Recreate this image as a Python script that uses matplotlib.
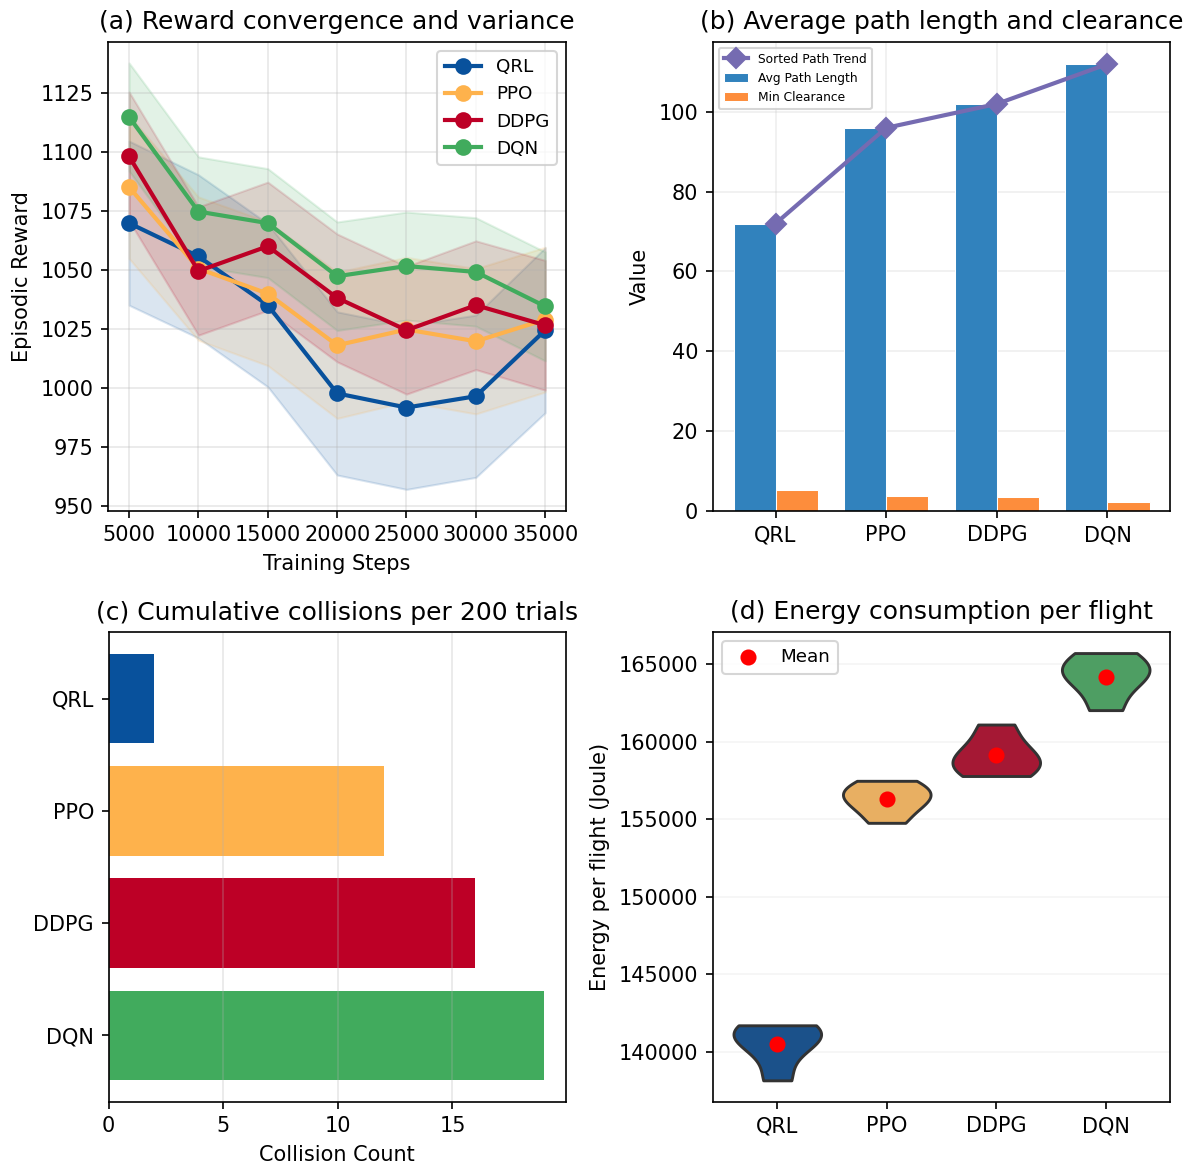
import colorsys

import matplotlib
matplotlib.use("Agg")
import matplotlib.colors as mcolors
import matplotlib.pyplot as plt
import numpy as np

methods = ["QRL", "PPO", "DDPG", "DQN"]
method_colors = ["#08519c", "#feb24c", "#bd0026", "#41ab5d"]

# (a) episodic reward over training: mean and std for each method
steps = [5000, 10000, 15000, 20000, 25000, 30000, 35000]
qrl_reward = [1070.0, 1055.9, 1035.2, 997.8, 991.8, 996.6, 1024.6]
ppo_reward = [1085.3, 1050.7, 1040.1, 1018.2, 1024.9, 1019.9, 1029.1]
ddpg_reward = [1098.3, 1049.7, 1060.2, 1038.3, 1024.6, 1035.2, 1026.7]
dqn_reward = [1115.0, 1074.9, 1070.0, 1047.5, 1051.8, 1049.3, 1034.7]
qrl_std = [34.8, 34.6, 34.6, 34.6, 34.7, 34.4, 35.0]
ppo_std = [30.3, 30.4, 30.5, 31.0, 30.6, 30.8, 30.7]
ddpg_std = [27.3, 27.2, 27.2, 27.1, 27.1, 27.3, 27.5]
dqn_std = [22.9, 23.2, 23.1, 23.0, 22.9, 23.0, 23.1]

# (b) path statistics
path_length = [72, 96, 102, 112]
min_clearance = [5.1, 3.8, 3.4, 2.2]

# (c) collisions over 200 trials
collisions = [2, 12, 16, 19]

# (d) energy per flight samples (Joule)
qrl_energy = [138150, 140300, 141000, 141400, 141700]
ppo_energy = [154760, 155700, 156200, 156600, 157000, 157470]
ddpg_energy = [157780, 158400, 158800, 159600, 161100]
dqn_energy = [162030, 163900, 164400, 164900, 165710]


def desaturate(color, prop):
    r, g, b = mcolors.to_rgb(color)
    h, l, s = colorsys.rgb_to_hls(r, g, b)
    return colorsys.hls_to_rgb(h, l, s * prop)


W, H = 1189, 1164
fig = plt.figure(figsize=(W / 150, H / 150), dpi=150)


def axes_px(left, top, right, bottom):
    return fig.add_axes([left / W, 1 - bottom / H, (right - left) / W, (bottom - top) / H])


tick_fs = 10
title_fs = 12

# ---- (a) reward convergence ----
ax1 = axes_px(108.3, 41.7, 566, 510.7)
rewards = [qrl_reward, ppo_reward, ddpg_reward, dqn_reward]
stds = [qrl_std, ppo_std, ddpg_std, dqn_std]
for name, color, mean, sd in zip(methods, method_colors, rewards, stds):
    mean = np.array(mean)
    sd = np.array(sd)
    ax1.fill_between(steps, mean - sd, mean + sd, color=color, alpha=0.15)
    ax1.plot(steps, mean, marker="o", color=color, linewidth=2.0, markersize=7, label=name)
ax1.set_xticks(steps)
ax1.set_title("(a) Reward convergence and variance", fontsize=title_fs)
ax1.set_xlabel("Training Steps", fontsize=tick_fs)
ax1.set_ylabel("Episodic Reward", fontsize=tick_fs)
ax1.tick_params(labelsize=tick_fs)
ax1.grid(True, alpha=0.3)
ax1.legend(loc="upper right", fontsize=8.8)

# ---- (b) path length and clearance ----
ax2 = axes_px(712.7, 41.7, 1170.3, 510.7)
x = np.arange(len(methods))
w = 0.38
ax2.bar(x - w / 2, path_length, w, color="#3182bd", edgecolor="white", linewidth=0.5,
        label="Avg Path Length")
ax2.bar(x + w / 2, min_clearance, w, color="#fd8d3c", edgecolor="white", linewidth=0.5,
        label="Min Clearance")
ax2.plot(x, sorted(path_length), marker="D", color="#756bb1", linewidth=2.0, markersize=7,
         label="Sorted Path Trend")
ax2.set_xticks(x)
ax2.set_xticklabels(methods)
ax2.set_title("(b) Average path length and clearance", fontsize=title_fs)
ax2.set_ylabel("Value", fontsize=tick_fs)
ax2.tick_params(labelsize=tick_fs)
ax2.grid(True, alpha=0.2)
ax2.set_axisbelow(True)
ax2.legend(loc="upper left", fontsize=5.9)

# ---- (c) collisions ----
ax3 = axes_px(108.5, 632.3, 566, 1101.7)
ax3.barh(methods, collisions, height=0.8, color=method_colors)
ax3.invert_yaxis()
ax3.set_title("(c) Cumulative collisions per 200 trials", fontsize=title_fs)
ax3.set_xlabel("Collision Count", fontsize=tick_fs)
ax3.tick_params(labelsize=tick_fs)
ax3.grid(True, axis="x", alpha=0.3)

# ---- (d) energy violins ----
ax4 = axes_px(712.7, 631.7, 1170.3, 1101.7)
energy = [qrl_energy, ppo_energy, ddpg_energy, dqn_energy]
parts = ax4.violinplot(energy, positions=x, widths=0.8, showextrema=False)
for body, color in zip(parts["bodies"], method_colors):
    body.set_facecolor(desaturate(color, 0.75))
    body.set_edgecolor("#333333")
    body.set_linewidth(1.4)
    body.set_alpha(1)
ax4.scatter(x, [np.mean(e) for e in energy], color="red", s=45, zorder=3, label="Mean")
ax4.set_xticks(x)
ax4.set_xticklabels(methods)
ax4.ticklabel_format(axis="y", style="plain", useOffset=False)
ax4.set_title("(d) Energy consumption per flight", fontsize=title_fs)
ax4.set_ylabel("Energy per flight (Joule)", fontsize=tick_fs)
ax4.tick_params(labelsize=tick_fs)
ax4.grid(True, axis="y", alpha=0.12)
ax4.set_axisbelow(True)
ax4.legend(loc="upper left", fontsize=8.8)

fig.savefig("out.png", dpi=150)
